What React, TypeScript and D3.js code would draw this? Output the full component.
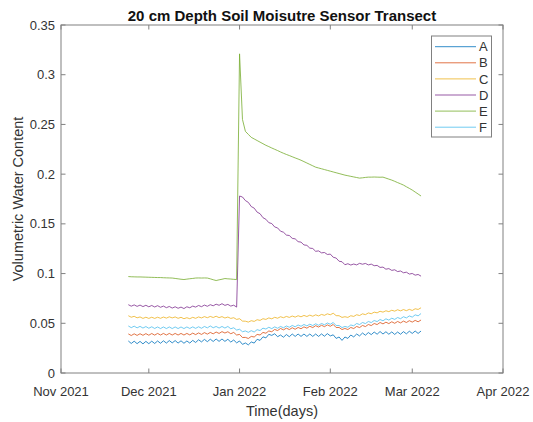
import React from "react";
import * as d3 from "d3";

// Daily readings from 24 Nov 2021 to 4 Mar 2022
const startDay = new Date(2021, 10, 24);

const seriesNames = ["A", "B", "C", "D", "E", "F"];
const seriesColors = ["#0072BD", "#D95319", "#EDB120", "#7E2F8E", "#77AC30", "#4DBEEE"];

const A = [
  0.0322, 0.0297, 0.0320, 0.0295, 0.0318, 0.0293, 0.0318, 0.0295, 0.0320, 0.0297,
  0.0322, 0.0299, 0.0324, 0.0301, 0.0326, 0.0303, 0.0326, 0.0301, 0.0324, 0.0299,
  0.0322, 0.0301, 0.0328, 0.0307, 0.0334, 0.0313, 0.0338, 0.0315, 0.0340, 0.0317,
  0.0342, 0.0318, 0.0342, 0.0318, 0.0339, 0.0311, 0.0332, 0.0303, 0.0322, 0.0288,
  0.0302, 0.0283, 0.0312, 0.0301, 0.0339, 0.0328, 0.0364, 0.0353, 0.0389, 0.0378,
  0.0395, 0.0365, 0.0382, 0.0360, 0.0387, 0.0365, 0.0392, 0.0368, 0.0392, 0.0368,
  0.0392, 0.0368, 0.0392, 0.0368, 0.0392, 0.0368, 0.0393, 0.0370, 0.0396, 0.0373,
  0.0384, 0.0348, 0.0362, 0.0328, 0.0362, 0.0348, 0.0382, 0.0363, 0.0392, 0.0373,
  0.0402, 0.0380, 0.0407, 0.0386, 0.0412, 0.0390, 0.0417, 0.0392, 0.0415, 0.0390,
  0.0413, 0.0388, 0.0412, 0.0390, 0.0416, 0.0394, 0.0420, 0.0398, 0.0422, 0.0398,
  0.0422,
];

const B = [
  0.0393, 0.0377, 0.0394, 0.0378, 0.0395, 0.0379, 0.0396, 0.0380, 0.0397, 0.0381,
  0.0398, 0.0382, 0.0398, 0.0382, 0.0398, 0.0382, 0.0398, 0.0382, 0.0398, 0.0382,
  0.0398, 0.0383, 0.0401, 0.0386, 0.0403, 0.0388, 0.0406, 0.0391, 0.0408, 0.0394,
  0.0412, 0.0398, 0.0416, 0.0402, 0.0415, 0.0395, 0.0408, 0.0382, 0.0388, 0.0357,
  0.0358, 0.0347, 0.0368, 0.0362, 0.0388, 0.0382, 0.0408, 0.0400, 0.0423, 0.0415,
  0.0438, 0.0427, 0.0448, 0.0434, 0.0451, 0.0437, 0.0455, 0.0440, 0.0458, 0.0445,
  0.0464, 0.0451, 0.0470, 0.0457, 0.0476, 0.0462, 0.0480, 0.0466, 0.0484, 0.0470,
  0.0488, 0.0457, 0.0458, 0.0437, 0.0448, 0.0437, 0.0458, 0.0447, 0.0468, 0.0457,
  0.0478, 0.0467, 0.0488, 0.0477, 0.0498, 0.0487, 0.0508, 0.0494, 0.0511, 0.0497,
  0.0515, 0.0500, 0.0518, 0.0504, 0.0522, 0.0508, 0.0526, 0.0512, 0.0529, 0.0515,
  0.0533,
];

const C = [
  0.0576, 0.0561, 0.0570, 0.0555, 0.0564, 0.0549, 0.0561, 0.0549, 0.0561, 0.0549,
  0.0561, 0.0550, 0.0563, 0.0552, 0.0565, 0.0554, 0.0564, 0.0550, 0.0560, 0.0546,
  0.0556, 0.0546, 0.0560, 0.0550, 0.0564, 0.0554, 0.0567, 0.0556, 0.0569, 0.0558,
  0.0571, 0.0557, 0.0567, 0.0553, 0.0563, 0.0549, 0.0556, 0.0539, 0.0546, 0.0522,
  0.0521, 0.0512, 0.0526, 0.0519, 0.0536, 0.0529, 0.0546, 0.0539, 0.0554, 0.0545,
  0.0560, 0.0551, 0.0566, 0.0556, 0.0569, 0.0559, 0.0573, 0.0562, 0.0576, 0.0565,
  0.0579, 0.0568, 0.0582, 0.0571, 0.0585, 0.0574, 0.0589, 0.0580, 0.0595, 0.0586,
  0.0601, 0.0577, 0.0576, 0.0559, 0.0566, 0.0559, 0.0576, 0.0569, 0.0586, 0.0578,
  0.0595, 0.0587, 0.0604, 0.0596, 0.0612, 0.0605, 0.0621, 0.0612, 0.0626, 0.0617,
  0.0631, 0.0622, 0.0636, 0.0625, 0.0638, 0.0627, 0.0640, 0.0629, 0.0646, 0.0639,
  0.0656,
];

const D = [
  0.0687, 0.0672, 0.0685, 0.0670, 0.0683, 0.0668, 0.0681, 0.0666, 0.0679, 0.0664,
  0.0677, 0.0661, 0.0673, 0.0657, 0.0669, 0.0653, 0.0666, 0.0651, 0.0663, 0.0648,
  0.0666, 0.0656, 0.0673, 0.0663, 0.0679, 0.0667, 0.0683, 0.0671, 0.0687, 0.0676,
  0.0692, 0.0681, 0.0697, 0.0680, 0.0690, 0.0673, 0.0682, 0.0663, 0.1780, 0.1770,
  0.1734, 0.1716, 0.1674, 0.1658, 0.1618, 0.1602, 0.1562, 0.1546, 0.1512, 0.1503,
  0.1469, 0.1459, 0.1426, 0.1416, 0.1387, 0.1383, 0.1354, 0.1349, 0.1321, 0.1316,
  0.1288, 0.1284, 0.1256, 0.1252, 0.1224, 0.1228, 0.1208, 0.1212, 0.1192, 0.1196,
  0.1164, 0.1156, 0.1124, 0.1119, 0.1089, 0.1099, 0.1086, 0.1096, 0.1087, 0.1103,
  0.1094, 0.1102, 0.1087, 0.1095, 0.1079, 0.1082, 0.1062, 0.1065, 0.1044, 0.1050,
  0.1032, 0.1038, 0.1020, 0.1026, 0.1008, 0.1014, 0.0995, 0.1001, 0.0984, 0.0991,
  0.0974,
];

const E = [
  0.0970, 0.0968, 0.0967, 0.0966, 0.0966, 0.0965, 0.0964, 0.0963, 0.0962, 0.0961,
  0.0960, 0.0960, 0.0958, 0.0957, 0.0956, 0.0955, 0.0951, 0.0947, 0.0943, 0.0940,
  0.0944, 0.0948, 0.0951, 0.0955, 0.0956, 0.0955, 0.0956, 0.0955, 0.0947, 0.0938,
  0.0930, 0.0937, 0.0943, 0.0950, 0.0947, 0.0945, 0.0942, 0.0940, 0.3210, 0.2550,
  0.2430, 0.2400, 0.2370, 0.2354, 0.2338, 0.2322, 0.2306, 0.2290, 0.2277, 0.2263,
  0.2250, 0.2237, 0.2223, 0.2210, 0.2198, 0.2187, 0.2175, 0.2163, 0.2152, 0.2140,
  0.2126, 0.2112, 0.2098, 0.2084, 0.2070, 0.2062, 0.2054, 0.2046, 0.2038, 0.2030,
  0.2022, 0.2014, 0.2006, 0.1998, 0.1990, 0.1984, 0.1978, 0.1972, 0.1966, 0.1960,
  0.1963, 0.1967, 0.1970, 0.1970, 0.1971, 0.1970, 0.1969, 0.1970, 0.1960, 0.1950,
  0.1940, 0.1928, 0.1915, 0.1903, 0.1890, 0.1873, 0.1857, 0.1840, 0.1820, 0.1800,
  0.1780,
];

const F = [
  0.0473, 0.0456, 0.0471, 0.0454, 0.0469, 0.0452, 0.0467, 0.0450, 0.0465, 0.0448,
  0.0463, 0.0447, 0.0463, 0.0447, 0.0463, 0.0447, 0.0463, 0.0447, 0.0463, 0.0447,
  0.0463, 0.0448, 0.0464, 0.0449, 0.0465, 0.0450, 0.0468, 0.0454, 0.0473, 0.0455,
  0.0468, 0.0452, 0.0468, 0.0452, 0.0468, 0.0445, 0.0455, 0.0432, 0.0440, 0.0415,
  0.0423, 0.0409, 0.0426, 0.0412, 0.0436, 0.0427, 0.0451, 0.0442, 0.0460, 0.0446,
  0.0464, 0.0450, 0.0468, 0.0455, 0.0473, 0.0460, 0.0478, 0.0465, 0.0483, 0.0470,
  0.0488, 0.0474, 0.0491, 0.0477, 0.0495, 0.0480, 0.0498, 0.0485, 0.0503, 0.0490,
  0.0508, 0.0477, 0.0478, 0.0457, 0.0468, 0.0460, 0.0483, 0.0475, 0.0498, 0.0487,
  0.0508, 0.0497, 0.0518, 0.0507, 0.0528, 0.0517, 0.0538, 0.0525, 0.0545, 0.0532,
  0.0551, 0.0539, 0.0558, 0.0546, 0.0566, 0.0554, 0.0574, 0.0562, 0.0585, 0.0575,
  0.0598,
];

const seriesValues = [A, B, C, D, E, F];

const xTickDates = [
  new Date(2021, 10, 1),
  new Date(2021, 11, 1),
  new Date(2022, 0, 1),
  new Date(2022, 1, 1),
  new Date(2022, 2, 1),
  new Date(2022, 3, 1),
];
const yTickValues = [0, 0.05, 0.1, 0.15, 0.2, 0.25, 0.3, 0.35];
const yTickLabels = ["0", "0.05", "0.1", "0.15", "0.2", "0.25", "0.3", "0.35"];

const W = 533;
const H = 422;
const L = 61, R = 503, T = 25, B_ = 373;
const FONT = "'Liberation Sans', Arial, Helvetica, sans-serif";
const AXIS = "#808080";
const TEXT = "#333333";

export default function App() {
  const dates = A.map((_, i) => d3.timeDay.offset(startDay, i));
  const x = d3.scaleTime().domain([xTickDates[0], xTickDates[xTickDates.length - 1]]).range([L, R]);
  const y = d3.scaleLinear().domain([0, 0.35]).range([B_, T]);
  const fmt = d3.timeFormat("%b %Y");
  const line = d3
    .line<number>()
    .x((_, i) => x(dates[i]))
    .y((v) => y(v));
  const tl = 4.5;

  return (
    <svg
      width={W}
      height={H}
      style={{ position: "absolute", left: 0, top: 0, background: "#fff" }}
      fontFamily={FONT}
    >
      <rect x={0} y={0} width={W} height={H} fill="#fff" />
      {/* title */}
      <text x={(L + R) / 2} y={21} textAnchor="middle" fontSize={15} fontWeight="bold" fill="#111">
        20 cm Depth Soil Moisutre Sensor Transect
      </text>
      {/* series */}
      <g fill="none" strokeWidth={1} strokeLinejoin="round">
        {seriesValues.map((vals, si) => (
          <path key={si} d={line(vals) || ""} stroke={seriesColors[si]} strokeOpacity={0.8} />
        ))}
      </g>
      {/* box */}
      <rect x={L} y={T} width={R - L} height={B_ - T} fill="none" stroke={AXIS} strokeWidth={1} />
      {/* x ticks */}
      {xTickDates.map((d, i) => {
        const xp = x(d);
        return (
          <g key={i}>
            <line x1={xp} x2={xp} y1={B_} y2={B_ - tl} stroke={AXIS} />
            <line x1={xp} x2={xp} y1={T} y2={T + tl} stroke={AXIS} />
            <text x={xp} y={396} textAnchor="middle" fontSize={13} fill={TEXT}>
              {fmt(d)}
            </text>
          </g>
        );
      })}
      {/* y ticks */}
      {yTickValues.map((v, i) => {
        const yp = y(v);
        return (
          <g key={i}>
            <line x1={L} x2={L + tl} y1={yp} y2={yp} stroke={AXIS} />
            <line x1={R} x2={R - tl} y1={yp} y2={yp} stroke={AXIS} />
            <text x={L - 6} y={yp + 4.6} textAnchor="end" fontSize={13} fill={TEXT}>
              {yTickLabels[i]}
            </text>
          </g>
        );
      })}
      {/* axis labels */}
      <text x={(L + R) / 2} y={416} textAnchor="middle" fontSize={14.5} fill={TEXT}>
        Time(days)
      </text>
      <text
        transform={`translate(23, ${(T + B_) / 2}) rotate(-90)`}
        textAnchor="middle"
        fontSize={14.5}
        fill={TEXT}
      >
        Volumetric Water Content
      </text>
      {/* legend */}
      <g>
        <rect x={431.5} y={36} width={60} height={101} fill="#fff" stroke={AXIS} strokeWidth={1} />
        {seriesNames.map((n, i) => {
          const ly = 46.7 + i * 16.1;
          return (
            <g key={n}>
              <line x1={435} x2={476} y1={ly} y2={ly} stroke={seriesColors[i]} strokeOpacity={0.8} />
              <text x={479} y={ly + 4.6} fontSize={13} fill={TEXT}>
                {n}
              </text>
            </g>
          );
        })}
      </g>
    </svg>
  );
}
